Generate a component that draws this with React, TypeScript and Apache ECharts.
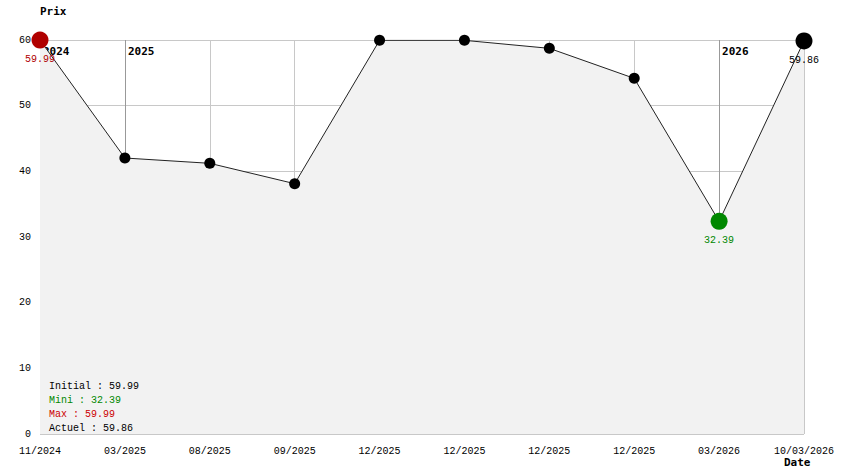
import React, { useEffect, useRef } from "react";
import * as echarts from "echarts";

const dateLabels = ["11/2024", "03/2025", "08/2025", "09/2025", "12/2025", "12/2025", "12/2025", "12/2025", "03/2026", "10/03/2026"];
const prices = [59.99, 42.03, 41.22, 38.12, 59.95, 59.95, 58.73, 54.16, 32.39, 59.86];
const yearMarks = [
  { index: 0, year: "2024" },
  { index: 1, year: "2025" },
  { index: 8, year: "2026" },
];
const summaryLines = [
  { text: "Initial : 59.99", color: "#000000" },
  { text: "Mini : 32.39", color: "#008800" },
  { text: "Max : 59.99", color: "#cc0000" },
  { text: "Actuel : 59.86", color: "#000000" },
];
const yTicks = { min: 0, max: 60, interval: 10 };

const FONT = "'Liberation Mono', 'DejaVu Sans Mono', monospace";
const BFONT = "'DejaVu Sans Mono', monospace";

export default function App() {
  const ref = useRef<HTMLDivElement>(null);
  useEffect(() => {
    if (!ref.current) return;
    const chart = echarts.init(ref.current, undefined, { renderer: "svg" });
    const categories = dateLabels.map((_, i) => String(i));
    const minIdx = prices.indexOf(Math.min(...prices));
    const maxIdx = 0;
    const lastIdx = prices.length - 1;

    const special = (v: number, color: string, dist: number) => ({
      value: v,
      symbolSize: 17,
      itemStyle: { color },
      label: { show: true, color, position: "bottom", distance: dist },
    });

    const dataItems = prices.map((v, i) => {
      if (i === maxIdx) return special(v, "#b00000", 6);
      if (i === minIdx) return special(v, "#008800", 6);
      if (i === lastIdx) return special(v, "#000000", 6);
      return { value: v };
    });

    chart.setOption({
      animation: false,
      backgroundColor: "#ffffff",
      grid: { left: 40, right: 40, top: 40, bottom: 40, containLabel: false },
      xAxis: {
        type: "category",
        data: categories,
        boundaryGap: false,
        axisLine: { show: false },
        axisTick: { show: false },
        axisLabel: {
          interval: 0,
          margin: 12,
          color: "#000",
          fontFamily: FONT,
          fontSize: 10,
          formatter: (_v: string, i: number) => dateLabels[i],
        },
        splitLine: { show: true, lineStyle: { color: "#c8c8c8", width: 1 } },
      },
      yAxis: {
        type: "value",
        min: yTicks.min,
        max: yTicks.max,
        interval: yTicks.interval,
        axisLine: { show: false },
        axisTick: { show: false },
        axisLabel: { margin: 9, color: "#000", fontFamily: FONT, fontSize: 10, padding: [3, 0, 0, 0] },
        splitLine: { show: true, lineStyle: { color: "#c8c8c8", width: 1 } },
      },
      series: [
        {
          type: "line",
          z: 1,
          silent: true,
          data: prices,
          symbol: "none",
          lineStyle: { opacity: 0 },
          markLine: {
            z: 1,
            silent: true,
            symbol: ["none", "none"],
            label: { show: false },
            lineStyle: { color: "#999999", type: "solid", width: 1 },
            data: yearMarks.filter((m) => m.index > 0).map((m) => ({ xAxis: m.index })),
          },
        },
        {
          type: "line",
          z: 3,
          data: dataItems,
          symbol: "circle",
          symbolSize: 11,
          itemStyle: { color: "#000000" },
          lineStyle: { color: "#222222", width: 1 },
          areaStyle: { color: "#f2f2f2", opacity: 1, origin: "start" },
          label: { show: false, fontFamily: FONT, fontSize: 10, formatter: (p: any) => p.value.toFixed(2) },
        },
      ],
    });

    const graphics: any[] = [];
    yearMarks.forEach((m) => {
      const pt = chart.convertToPixel({ xAxisIndex: 0, yAxisIndex: 0 }, [m.index, yTicks.max]) as number[];
      graphics.push({
        type: "text",
        x: pt[0] + 3,
        y: pt[1] + 6,
        z: 0,
        style: { text: m.year, fill: "#000", font: `bold 11px ${BFONT}` },
      });
    });
    summaryLines.forEach((l, i) => {
      graphics.push({
        type: "text",
        left: 49,
        top: 381 + i * 14,
        z: 10,
        style: { text: l.text, fill: l.color, font: `10px ${FONT}` },
      });
    });
    graphics.push({ type: "text", left: 40, top: 6, style: { text: "Prix", fill: "#000", font: `bold 11px ${BFONT}` } });
    graphics.push({ type: "text", left: 784, top: 457, style: { text: "Date", fill: "#000", font: `bold 11px ${BFONT}` } });
    chart.setOption({ graphic: graphics });

    return () => chart.dispose();
  }, []);
  return <div ref={ref} style={{ width: 844, height: 474, position: "absolute", left: 0, top: 0 }} />;
}
